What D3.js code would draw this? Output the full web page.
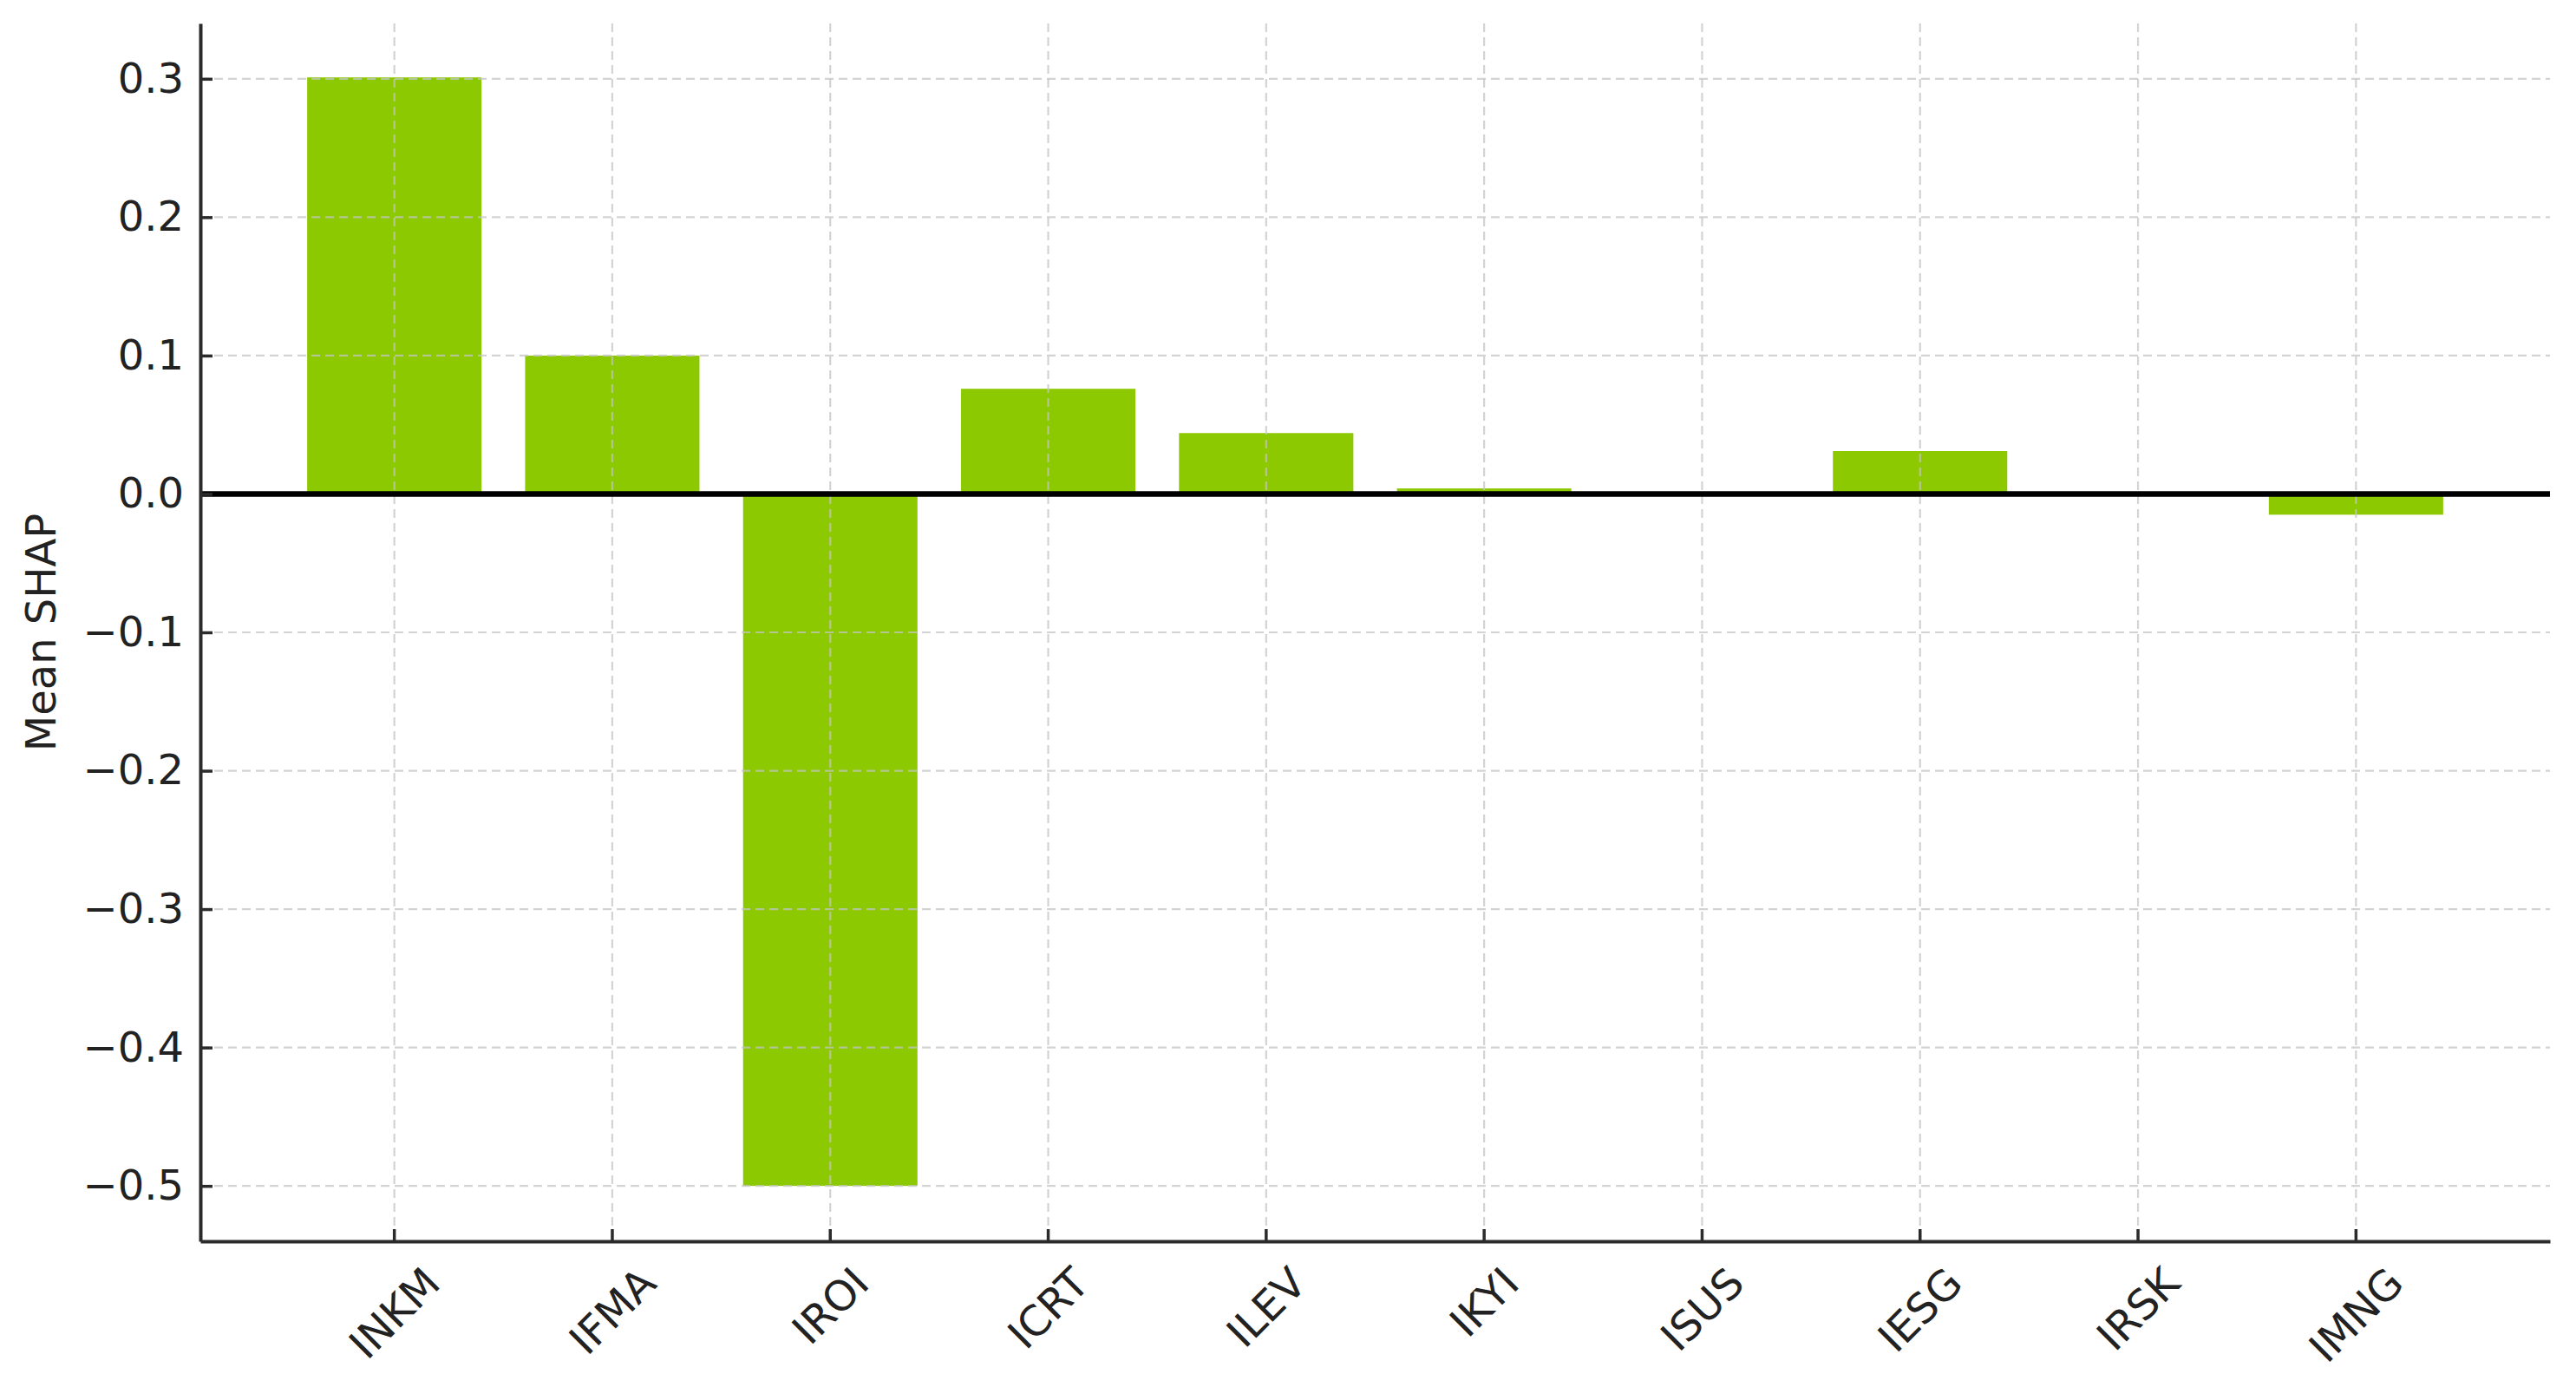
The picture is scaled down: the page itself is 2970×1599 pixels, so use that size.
<!DOCTYPE html>
<html>
<head>
<meta charset="utf-8">
<script src="https://cdn.jsdelivr.net/npm/d3@7"></script>
<style>
  body { margin: 0; background: #fff; }
  svg { display: block; }
  text { font-family: "DejaVu Sans", sans-serif; fill: #222; }
</style>
</head>
<body>
<svg id="chart" width="2970" height="1599"></svg>
<script>
// data
const features = ["INKM", "IFMA", "IROI", "ICRT", "ILEV", "IKYI", "ISUS", "IESG", "IRSK", "IMNG"];
const meanShap = [0.301, 0.100, -0.500, 0.076, 0.044, 0.004, 0.0004, 0.031, 0.001, -0.015];
const yTicks = [-0.5, -0.4, -0.3, -0.2, -0.1, 0.0, 0.1, 0.2, 0.3];

const W = 2970, H = 1599;
const margin = { left: 231, right: 30, top: 27, bottom: 168 };
const barColor = "#8cc900";
const axisColor = "#2b2b2b";
const fontSize = 48;

const svg = d3.select("#chart");

let x = d3.scaleBand()
    .domain(features)
    .range([margin.left, W - margin.right])
    .paddingInner(0.2)
    .paddingOuter(0.49);

let y = d3.scaleLinear()
    .domain([-0.54, 0.34])
    .range([H - margin.bottom, margin.top]);

let fmt = v => d3.format(".1f")(v).replace("-", "\u2212");

// bars
svg.append("g")
    .selectAll("rect")
    .data(features)
    .enter()
    .append("rect")
    .attr("x", d => x(d))
    .attr("width", x.bandwidth())
    .attr("y", (d, i) => y(Math.max(0, meanShap[i])))
    .attr("height", (d, i) => Math.abs(y(meanShap[i]) - y(0)))
    .style("fill", barColor);

// grid (drawn over the bars, light and dashed)
let grid = svg.append("g")
    .style("stroke", "#c4c4c4")
    .style("stroke-opacity", 0.75)
    .style("stroke-width", 2.2)
    .style("stroke-dasharray", "10,6");

grid.selectAll("line.h")
    .data(yTicks)
    .enter()
    .append("line")
    .attr("class", "h")
    .attr("x1", margin.left)
    .attr("x2", W - margin.right)
    .attr("y1", d => y(d))
    .attr("y2", d => y(d));

grid.selectAll("line.v")
    .data(features)
    .enter()
    .append("line")
    .attr("class", "v")
    .attr("x1", d => x(d) + x.bandwidth() / 2)
    .attr("x2", d => x(d) + x.bandwidth() / 2)
    .attr("y1", margin.top)
    .attr("y2", H - margin.bottom);

// zero line
svg.append("line")
    .attr("x1", margin.left)
    .attr("x2", W - margin.right)
    .attr("y1", y(0))
    .attr("y2", y(0))
    .style("stroke", "#000")
    .style("stroke-width", 6.5);

// y axis
let yAxis = svg.append("g")
    .attr("transform", "translate(" + margin.left + ",0)")
    .call(d3.axisLeft(y).tickValues(yTicks).tickFormat(fmt).tickSize(-14).tickSizeOuter(0).tickPadding(19));

yAxis.select(".domain").style("stroke", axisColor).style("stroke-width", 4);
yAxis.selectAll(".tick line").style("stroke", axisColor).style("stroke-width", 3.5);
yAxis.selectAll(".tick text")
    .attr("x", -19)
    .style("font-size", fontSize + "px")
    .style("font-family", "DejaVu Sans")
    .style("fill", "#222");

// x axis
let xAxis = svg.append("g")
    .attr("transform", "translate(0," + (H - margin.bottom) + ")")
    .call(d3.axisBottom(x).tickSize(-14).tickSizeOuter(0));

xAxis.select(".domain").style("stroke", axisColor).style("stroke-width", 4);
xAxis.selectAll(".tick line").style("stroke", axisColor).style("stroke-width", 3.5);
xAxis.selectAll(".tick text")
    .style("font-size", fontSize + "px")
    .style("font-family", "DejaVu Sans")
    .style("fill", "#222")
    .attr("dy", null)
    .attr("y", 0)
    .attr("text-anchor", "middle")
    .attr("dominant-baseline", "central")
    .each(function () {
        // rotated bbox top-centred under the tick, like matplotlib rotation=45
        let w = this.getComputedTextLength();
        let h = fontSize * 0.9;
        let side = (w + h) / Math.SQRT2;
        d3.select(this).attr("transform", "translate(0," + (24 + side / 2) + ") rotate(-45)");
    });

// y label
svg.append("text")
    .attr("transform", "translate(47," + ((margin.top + H - margin.bottom) / 2) + ") rotate(-90)")
    .attr("text-anchor", "middle")
    .attr("dominant-baseline", "central")
    .style("font-size", fontSize + "px")
    .text("Mean SHAP");
</script>
</body>
</html>
